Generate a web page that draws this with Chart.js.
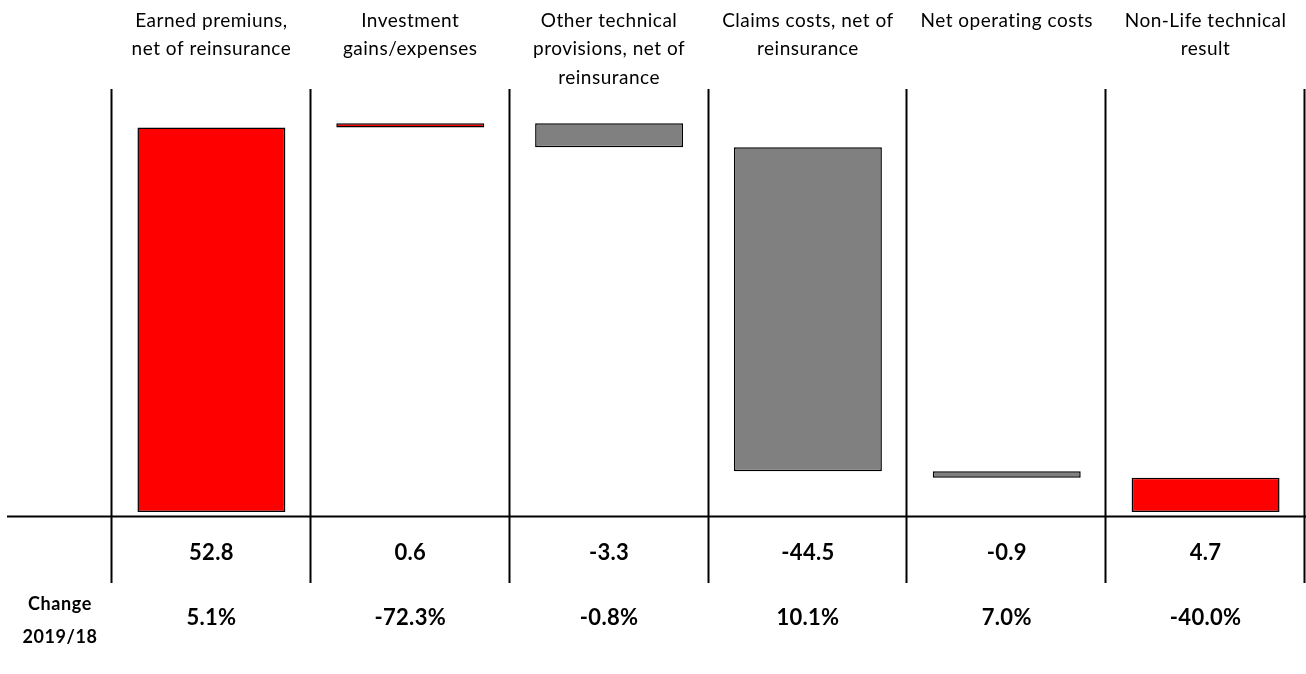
<!DOCTYPE html>
<html lang="en">
<head>
    <meta charset="UTF-8">
    <title>Non-Life technical result</title>
    <style>
        body {
            margin: 0;
            background-color: #ffffff;
        }
        #wrap {
            width: 1306px;
            height: 674px;
        }
    </style>
</head>
<body>
    <div id="wrap">
        <canvas id="waterfall" width="1306" height="674"></canvas>
    </div>

    <script src="https://cdn.jsdelivr.net/npm/chart.js"></script>
    <script>
        // Items of the bridge, left to right
        const categories = [
            ['Earned premiuns,', 'net of reinsurance'],
            ['Investment', 'gains/expenses'],
            ['Other technical', 'provisions, net of', 'reinsurance'],
            ['Claims costs, net of', 'reinsurance'],
            ['Net operating costs'],
            ['Non-Life technical', 'result']
        ];
        const values = [52.8, 0.6, -3.3, -44.5, -0.9, 4.7];
        const isTotal = [false, false, false, false, false, true];
        const changes = ['5.1%', '-72.3%', '-0.8%', '10.1%', '7.0%', '-40.0%'];
        const valueLabels = ['52.8', '0.6', '-3.3', '-44.5', '-0.9', '4.7'];
        const changeTitle = ['Change', '2019/18'];

        // Floating [start, end] ranges from the running total
        const ranges = [];
        let running = 0;
        values.forEach(function(v, i) {
            if (isTotal[i]) {
                ranges.push([0, v]);
                running = v;
            } else {
                ranges.push([running, running + v]);
                running += v;
            }
        });

        const RED = '#ff0000';
        const GREY = '#808080';
        const colors = values.map(function(v) { return v >= 0 ? RED : GREY; });

        // Grid lines, titles and the value rows under the bars
        const tablePlugin = {
            id: 'tablePlugin',
            afterDatasetsDraw(chart) {
                const ctx = chart.ctx;
                const x = chart.scales.x;
                const area = chart.chartArea;
                const step = (area.right - area.left) / categories.length;

                ctx.save();
                ctx.strokeStyle = '#000000';
                ctx.lineWidth = 2;

                // vertical separators
                for (let i = 0; i <= categories.length; i++) {
                    const px = Math.round(area.left + i * step) - 0.5;
                    ctx.beginPath();
                    ctx.moveTo(px, 89);
                    ctx.lineTo(px, 583);
                    ctx.stroke();
                }

                // base line
                ctx.beginPath();
                ctx.moveTo(7, 516.5);
                ctx.lineTo(1306, 516.5);
                ctx.stroke();

                ctx.fillStyle = '#000000';
                ctx.textAlign = 'center';
                ctx.textBaseline = 'alphabetic';

                // category titles
                ctx.font = '19px Lato';
                ctx.letterSpacing = '0.5px';
                categories.forEach(function(lines, i) {
                    const cx = x.getPixelForValue(i);
                    lines.forEach(function(line, j) {
                        ctx.fillText(line, cx, 27 + j * 28.3);
                    });
                });

                // values and yearly change
                ctx.font = 'bold 22px Lato';
                ctx.letterSpacing = '0.3px';
                valueLabels.forEach(function(t, i) {
                    ctx.fillText(t, x.getPixelForValue(i), 560);
                });
                changes.forEach(function(t, i) {
                    ctx.fillText(t, x.getPixelForValue(i), 625);
                });

                ctx.font = 'bold 18px Lato';
                ctx.letterSpacing = '0.6px';
                ctx.fillText(changeTitle[0], 60, 610);
                ctx.fillText(changeTitle[1], 60, 643);
                ctx.restore();
            }
        };

        new Chart(document.getElementById('waterfall').getContext('2d'), {
            type: 'bar',
            data: {
                labels: categories.map(function(c) { return c.join(' '); }),
                datasets: [{
                    data: ranges,
                    backgroundColor: colors,
                    borderColor: '#000000',
                    borderWidth: 1.5,
                    borderSkipped: false,
                    categoryPercentage: 1,
                    barPercentage: 0.744
                }]
            },
            options: {
                responsive: false,
                animation: false,
                layout: {
                    padding: { left: 112, right: 1, top: 89, bottom: 162 }
                },
                plugins: {
                    legend: { display: false },
                    tooltip: { enabled: false }
                },
                scales: {
                    x: { display: false },
                    y: { display: false, min: 0, max: 58.1 }
                }
            },
            plugins: [tablePlugin]
        });
    </script>
</body>
</html>
